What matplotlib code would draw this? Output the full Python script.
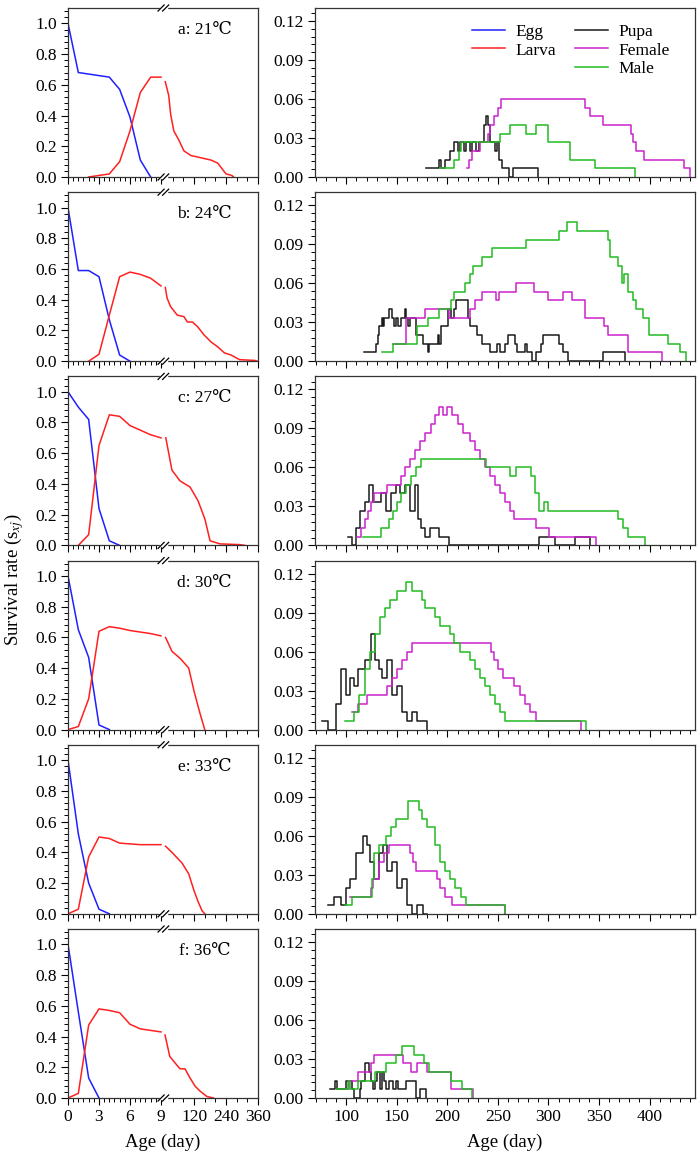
import numpy as np
import matplotlib
matplotlib.use('Agg')
import matplotlib.pyplot as plt
from matplotlib.lines import Line2D
from matplotlib.ticker import FixedLocator, MultipleLocator

plt.rcParams['font.family'] = ['Liberation Serif', 'DejaVu Serif']
plt.rcParams['mathtext.fontset'] = 'stix'

labels = ['a: 21\u2103', 'b: 24\u2103', 'c: 27\u2103', 'd: 30\u2103', 'e: 33\u2103', 'f: 36\u2103']

# egg survival by day (left panels)
egg_day = [
    [0, 1, 2, 3, 4, 5, 6, 7, 8],
    [0, 1, 2, 3, 4, 5, 6],
    [0, 1, 2, 3, 4, 5],
    [0, 1, 2, 3, 4],
    [0, 1, 2, 3, 4],
    [0, 1, 2, 3],
]
egg_val = [
    [1.0, 0.68, 0.67, 0.66, 0.65, 0.57, 0.39, 0.11, 0.0],
    [1.0, 0.59, 0.59, 0.55, 0.27, 0.04, 0.0],
    [1.0, 0.90, 0.82, 0.24, 0.03, 0.0],
    [1.0, 0.65, 0.47, 0.03, 0.0],
    [1.0, 0.52, 0.20, 0.03, 0.0],
    [1.0, 0.56, 0.13, 0.0],
]

# larva, first part (days 0-9)
larva1_day = [
    [2, 3, 4, 5, 6, 7, 8, 9],
    [2, 3, 4, 5, 6, 7, 8, 9],
    [1, 2, 3, 4, 5, 6, 7, 8, 9],
    [0, 1, 2, 3, 4, 5, 6, 7, 8, 9],
    [0, 1, 2, 3, 4, 5, 6, 7, 8, 9],
    [0, 1, 2, 3, 4, 5, 6, 7, 8, 9],
]
larva1_val = [
    [0.0, 0.01, 0.02, 0.10, 0.30, 0.55, 0.65, 0.65],
    [0.0, 0.045, 0.30, 0.55, 0.58, 0.565, 0.54, 0.49],
    [0.0, 0.07, 0.65, 0.85, 0.84, 0.78, 0.75, 0.72, 0.70],
    [0.0, 0.02, 0.20, 0.64, 0.67, 0.66, 0.645, 0.635, 0.625, 0.61],
    [0.0, 0.03, 0.37, 0.50, 0.49, 0.46, 0.455, 0.45, 0.45, 0.45],
    [0.0, 0.03, 0.475, 0.58, 0.57, 0.555, 0.48, 0.45, 0.44, 0.43],
]

# larva, second part (after the axis break)
larva2_day = [
    [12, 25, 32, 44, 63, 82, 108, 146, 184, 209, 240, 262, 268],
    [12, 19, 32, 57, 82, 95, 114, 133, 158, 184, 209, 234, 259, 291, 348, 358],
    [14, 37, 67, 105, 135, 161, 180, 217, 292, 311],
    [13, 37, 70, 100, 120, 140, 160],
    [13, 37, 75, 100, 120, 135, 150, 160],
    [11, 29, 48, 67, 86, 105, 124, 143, 168, 193],
]
larva2_val = [
    [0.62, 0.53, 0.41, 0.30, 0.24, 0.17, 0.14, 0.125, 0.11, 0.09, 0.02, 0.01, 0.0],
    [0.48, 0.41, 0.355, 0.30, 0.29, 0.255, 0.255, 0.225, 0.17, 0.125, 0.093, 0.054, 0.04, 0.01, 0.005, 0.0],
    [0.70, 0.49, 0.42, 0.38, 0.29, 0.17, 0.03, 0.01, 0.005, 0.0],
    [0.60, 0.51, 0.46, 0.40, 0.25, 0.12, 0.0],
    [0.44, 0.40, 0.33, 0.26, 0.15, 0.08, 0.02, 0.0],
    [0.41, 0.27, 0.23, 0.19, 0.19, 0.13, 0.077, 0.044, 0.01, 0.0],
]

# pupa / female / male (right panels), step series
pupa_day = [
    [179, 192, 194, 198, 203, 207, 210, 212, 216, 218, 222, 224, 228, 231, 236, 238, 240, 242, 247, 249, 251, 254, 261, 265, 290],
    [117, 129, 131, 132, 135, 136, 137, 142, 145, 147, 149, 151, 154, 158, 159, 161, 163, 169, 176, 181, 182, 191, 192, 194, 201, 204, 207, 209, 220, 222, 229, 234, 242, 249, 252, 257, 260, 267, 269, 277, 279, 284, 288, 293, 295, 310, 314, 319, 354, 376],
    [102, 106, 110, 114, 118, 122, 126, 134, 139, 144, 149, 153, 158, 163, 168, 171, 174, 178, 183, 192, 202, 291, 306, 326, 341],
    [76, 82, 90, 95, 100, 104, 108, 112, 118, 124, 128, 132, 135, 140, 145, 150, 155, 160, 165, 170, 180],
    [82, 88, 95, 100, 104, 110, 116, 120, 123, 127, 132, 136, 140, 145, 150, 155, 160, 165, 170, 176, 180],
    [84, 89, 91, 100, 106, 108, 114, 115, 118, 122, 124, 126, 128, 130, 133, 135, 137, 139, 142, 146, 149, 151, 159, 169, 173, 179],
]
pupa_val = [
    [0.0067, 0.0133, 0.0067, 0.0133, 0.02, 0.0267, 0.02, 0.0267, 0.02, 0.0267, 0.02, 0.0267, 0.02, 0.0267, 0.04, 0.0467, 0.04, 0.0267, 0.02, 0.0267, 0.0133, 0.0067, 0.0, 0.0067, 0.0],
    [0.0067, 0.0133, 0.02, 0.0267, 0.0333, 0.0267, 0.0333, 0.04, 0.0333, 0.0267, 0.0333, 0.0267, 0.0333, 0.04, 0.0333, 0.0267, 0.0333, 0.02, 0.0133, 0.0067, 0.0133, 0.02, 0.0133, 0.0267, 0.04, 0.0333, 0.04, 0.0467, 0.0333, 0.0267, 0.02, 0.0133, 0.0067, 0.0133, 0.0067, 0.0133, 0.02, 0.0133, 0.0067, 0.0133, 0.0067, 0.0, 0.0067, 0.0133, 0.02, 0.0133, 0.0067, 0.0, 0.0067, 0.0],
    [0.0067, 0.0, 0.0133, 0.0267, 0.0333, 0.0467, 0.0333, 0.04, 0.0267, 0.04, 0.0467, 0.04, 0.0467, 0.0267, 0.0467, 0.02, 0.0133, 0.0067, 0.0133, 0.0067, 0.0, 0.0067, 0.0, 0.0067, 0.0],
    [0.0067, 0.0, 0.02, 0.0467, 0.0267, 0.04, 0.0333, 0.0467, 0.0533, 0.0733, 0.0533, 0.0467, 0.04, 0.0533, 0.0267, 0.0333, 0.0133, 0.0067, 0.0133, 0.0067, 0.0],
    [0.0067, 0.0133, 0.0067, 0.02, 0.0267, 0.0467, 0.06, 0.0533, 0.04, 0.0267, 0.0467, 0.0533, 0.0333, 0.04, 0.02, 0.0267, 0.0067, 0.0, 0.0067, 0.0, 0.0],
    [0.0067, 0.0133, 0.0067, 0.0133, 0.0067, 0.0, 0.0067, 0.0133, 0.0267, 0.02, 0.0133, 0.0067, 0.0133, 0.02, 0.0067, 0.02, 0.0133, 0.0067, 0.0133, 0.0067, 0.0133, 0.0067, 0.0133, 0.0, 0.0067, 0.0],
]

female_day = [
    [219, 221, 224, 232, 240, 242, 246, 250, 253, 336, 341, 354, 382, 384, 387, 395, 434, 440],
    [146, 159, 178, 202, 222, 227, 234, 248, 251, 268, 286, 300, 314, 323, 336, 355, 359, 379, 412],
    [111, 115, 118, 121, 124, 127, 140, 154, 158, 163, 168, 173, 178, 184, 188, 192, 196, 200, 205, 210, 215, 222, 227, 232, 237, 242, 247, 252, 257, 262, 266, 288, 301, 347],
    [106, 112, 120, 140, 145, 150, 155, 160, 165, 175, 243, 246, 250, 255, 266, 272, 277, 282, 288, 300, 332],
    [104, 124, 126, 132, 137, 142, 148, 163, 166, 169, 190, 193, 198, 205, 220, 257],
    [99, 103, 112, 124, 127, 130, 156, 164, 170, 180, 204, 225],
]
female_val = [
    [0.0067, 0.0133, 0.02, 0.0267, 0.0333, 0.04, 0.0467, 0.0533, 0.06, 0.0533, 0.0467, 0.04, 0.0333, 0.0267, 0.02, 0.0133, 0.0067, 0.0],
    [0.0133, 0.0333, 0.04, 0.0333, 0.04, 0.0467, 0.0533, 0.0467, 0.0533, 0.06, 0.0533, 0.0467, 0.0533, 0.0467, 0.0333, 0.0267, 0.02, 0.0067, 0.0],
    [0.0067, 0.0133, 0.02, 0.0267, 0.0333, 0.04, 0.0467, 0.0533, 0.06, 0.0667, 0.0733, 0.08, 0.0867, 0.0933, 0.1, 0.1067, 0.1, 0.1067, 0.1, 0.0933, 0.0867, 0.08, 0.0733, 0.0667, 0.06, 0.0533, 0.0467, 0.04, 0.0333, 0.0267, 0.02, 0.0133, 0.0067, 0.0],
    [0.0133, 0.02, 0.0267, 0.0333, 0.04, 0.0467, 0.0533, 0.06, 0.0667, 0.0667, 0.06, 0.0533, 0.0467, 0.04, 0.0333, 0.0267, 0.02, 0.0133, 0.0067, 0.0067, 0.0],
    [0.0133, 0.02, 0.0267, 0.04, 0.0467, 0.0533, 0.0533, 0.0467, 0.04, 0.0333, 0.0267, 0.02, 0.0133, 0.0067, 0.0067, 0.0],
    [0.0067, 0.0133, 0.02, 0.0267, 0.0333, 0.0333, 0.0267, 0.02, 0.0267, 0.02, 0.0067, 0.0],
]

male_day = [
    [193, 207, 211, 213, 252, 262, 278, 288, 300, 321, 346, 386],
    [135, 146, 170, 181, 192, 204, 207, 217, 222, 225, 234, 244, 278, 310, 318, 328, 359, 361, 369, 373, 375, 379, 384, 387, 394, 399, 418, 430, 436],
    [116, 134, 142, 146, 150, 154, 159, 164, 169, 174, 179, 238, 262, 268, 283, 287, 291, 296, 300, 341, 369, 374, 379, 396],
    [99, 108, 113, 118, 123, 128, 133, 138, 143, 150, 159, 165, 175, 178, 188, 193, 203, 207, 212, 222, 227, 232, 237, 242, 247, 252, 257, 262, 268, 300, 337],
    [99, 106, 125, 127, 132, 139, 144, 149, 161, 172, 175, 180, 188, 193, 198, 203, 208, 213, 218, 226, 257],
    [91, 102, 104, 112, 128, 139, 149, 155, 167, 177, 182, 204, 214, 224],
]
male_val = [
    [0.0067, 0.0133, 0.02, 0.0267, 0.0333, 0.04, 0.0333, 0.04, 0.0267, 0.0133, 0.0067, 0.0],
    [0.0067, 0.0133, 0.0267, 0.0333, 0.04, 0.0467, 0.0533, 0.06, 0.0667, 0.0733, 0.08, 0.0867, 0.0933, 0.1, 0.1067, 0.1, 0.0933, 0.08, 0.0733, 0.06, 0.0667, 0.0533, 0.0467, 0.04, 0.0333, 0.02, 0.0133, 0.0067, 0.0],
    [0.0067, 0.0133, 0.02, 0.0267, 0.0333, 0.04, 0.0467, 0.0533, 0.06, 0.0667, 0.0667, 0.06, 0.0533, 0.06, 0.0533, 0.04, 0.0267, 0.0333, 0.0267, 0.0267, 0.02, 0.0133, 0.0067, 0.0],
    [0.0067, 0.0133, 0.0267, 0.0467, 0.06, 0.0733, 0.0867, 0.0933, 0.1, 0.1067, 0.1133, 0.1067, 0.1, 0.0933, 0.0867, 0.08, 0.0733, 0.0667, 0.06, 0.0533, 0.0467, 0.04, 0.0333, 0.0267, 0.02, 0.0133, 0.0067, 0.0067, 0.0067, 0.0067, 0.0],
    [0.0067, 0.0133, 0.0267, 0.0467, 0.0533, 0.06, 0.0667, 0.0733, 0.0867, 0.08, 0.0733, 0.0667, 0.0533, 0.04, 0.0333, 0.0267, 0.02, 0.0133, 0.0067, 0.0067, 0.0],
    [0.0067, 0.0133, 0.0067, 0.0133, 0.02, 0.0267, 0.0333, 0.04, 0.0333, 0.0267, 0.02, 0.0133, 0.0067, 0.0],
]

c_egg, c_larva, c_pupa, c_female, c_male = '#2020ff', '#ff2020', '#1a1a1a', '#cc22cc', '#22bb22'


# broken age axis for the egg/larva panels
def fwd(d):
    d = np.asarray(d, dtype=float)
    return np.where(d <= 9.2, d,
                    np.where(d <= 10, 9.2 + (d - 9.2) * 0.205, 9.106 + 0.02579 * d))


def inv(u):
    u = np.asarray(u, dtype=float)
    return np.where(u <= 9.2, u,
                    np.where(u <= 9.364, 9.2 + (u - 9.2) / 0.205, (u - 9.106) / 0.02579))


fig = plt.figure(figsize=(7, 11.6), dpi=100)
W, H = 700.0, 1160.0
fs = 12.5

for i in range(6):
    top = 8 + i * 184.2
    bot = 1 - (top + 169) / H
    axl = fig.add_axes([68 / W, bot, 190 / W, 169 / H])
    axr = fig.add_axes([315 / W, bot, 380 / W, 169 / H])

    # left: egg & larva
    axl.set_xscale('function', functions=(fwd, inv))
    axl.plot(egg_day[i], egg_val[i], color=c_egg, lw=1.1)
    axl.plot(larva1_day[i], larva1_val[i], color=c_larva, lw=1.1)
    axl.plot(larva2_day[i], larva2_val[i], color=c_larva, lw=1.1)
    axl.set_xlim(0, 360)
    axl.set_ylim(0, 1.1)
    axl.xaxis.set_major_locator(FixedLocator([0, 3, 6, 9, 120, 240, 360]))
    minl = [v for v in np.arange(0.5, 9.0, 0.5) if v % 3] + [40, 80, 160, 200, 280, 320]
    axl.xaxis.set_minor_locator(FixedLocator(minl))
    axl.yaxis.set_minor_locator(MultipleLocator(0.04))
    axl.set_yticks([0, 0.2, 0.4, 0.6, 0.8, 1.0])
    axl.set_yticklabels(['0.0', '0.2', '0.4', '0.6', '0.8', '1.0'])
    axl.text(0.72, 0.87, labels[i], transform=axl.transAxes, ha='center', va='center', fontsize=fs)

    # break marks
    xb = (fwd(9.35) - fwd(0)) / (fwd(360) - fwd(0))
    for yb in (0, 1):
        axl.plot([xb - 0.012, xb + 0.012], [yb, yb], color='white', lw=2.5,
                 transform=axl.transAxes, clip_on=False, zorder=5)
        for dx in (-0.012, 0.012):
            axl.plot([xb + dx - 0.016, xb + dx + 0.016], [yb - 0.018, yb + 0.018], color='black',
                     lw=0.9, transform=axl.transAxes, clip_on=False, zorder=6)

    # right: pupa, female, male
    axr.step(pupa_day[i], pupa_val[i], where='post', color=c_pupa, lw=1.1)
    axr.step(female_day[i], female_val[i], where='post', color=c_female, lw=1.1)
    axr.step(male_day[i], male_val[i], where='post', color=c_male, lw=1.1)
    axr.set_xlim(69, 445)
    axr.set_ylim(0, 0.13)
    axr.xaxis.set_major_locator(MultipleLocator(50))
    axr.xaxis.set_minor_locator(MultipleLocator(10))
    axr.yaxis.set_major_locator(MultipleLocator(0.03))
    axr.yaxis.set_minor_locator(MultipleLocator(0.006))
    axr.yaxis.set_major_formatter(plt.FormatStrFormatter('%.2f'))

    for ax in (axl, axr):
        ax.tick_params(which='major', direction='out', length=5, width=0.8, labelsize=fs,
                       top=False, right=False, pad=3)
        ax.tick_params(which='minor', direction='out', length=3, width=0.7, top=False, right=False)
        for sp in ax.spines.values():
            sp.set_linewidth(0.9)
            sp.set_color('#333333')
        if i < 5:
            ax.tick_params(labelbottom=False)

    if i == 0:
        hs = [Line2D([], [], color=c_egg, lw=1.1), Line2D([], [], color=c_larva, lw=1.1),
              Line2D([], [], color='none'),
              Line2D([], [], color=c_pupa, lw=1.1), Line2D([], [], color=c_female, lw=1.1),
              Line2D([], [], color=c_male, lw=1.1)]
        axr.legend(hs, ['Egg', 'Larva', '', 'Pupa', 'Female', 'Male'], ncol=2, frameon=False,
                   loc='upper right', bbox_to_anchor=(0.975, 1.0), fontsize=fs,
                   handlelength=1.9, labelspacing=0.15, columnspacing=1.1, handletextpad=0.6)
    if i == 5:
        axl.set_xlabel('Age (day)', fontsize=fs + 1, labelpad=6)
        axr.set_xlabel('Age (day)', fontsize=fs + 1, labelpad=6)

fig.text(14 / W, 0.5, 'Survival rate (s$_{xj}$)', rotation=90, ha='center', va='center', fontsize=fs + 1)

fig.savefig('out.png', dpi=100)
